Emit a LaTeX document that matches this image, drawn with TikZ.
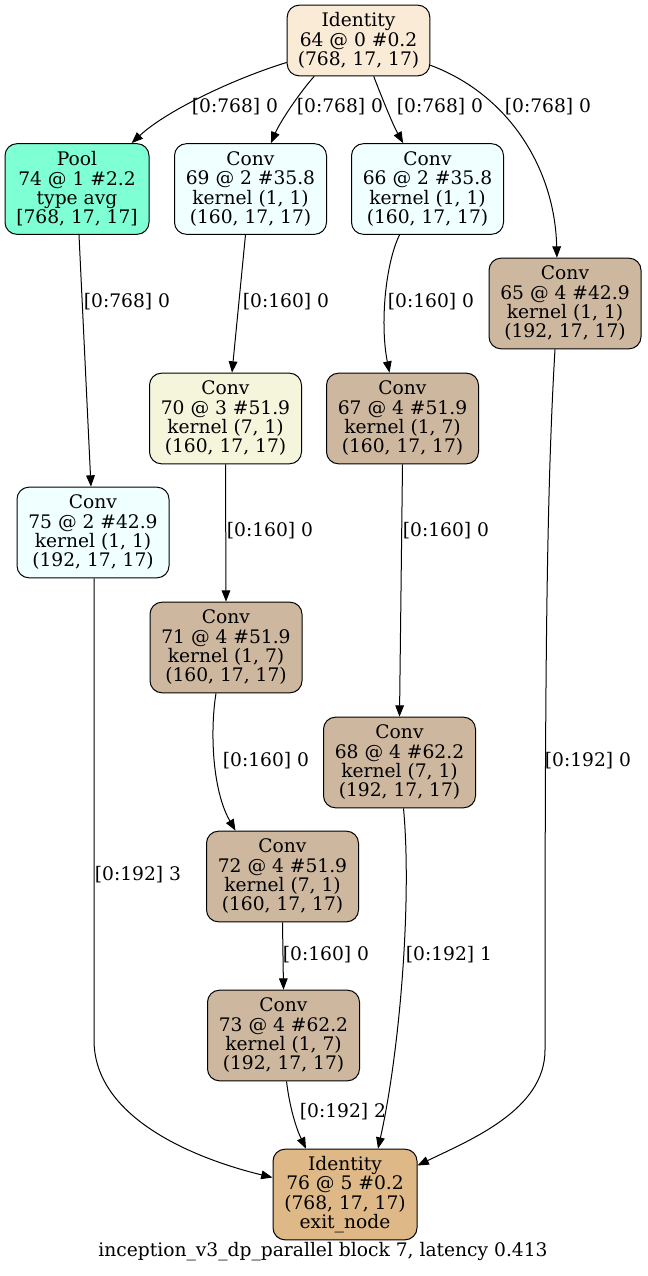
\documentclass[tikz,border=0pt]{standalone}
\usepackage{fontspec}
\setmainfont{DejaVu Serif}
\usetikzlibrary{arrows.meta,calc}
\definecolor{cAW}{HTML}{FAEBD7}
\definecolor{cAq}{HTML}{7FFFD4}
\definecolor{cAz}{HTML}{F0FFFF}
\definecolor{cBe}{HTML}{F5F5DC}
\definecolor{cTan}{HTML}{CDB79E}
\definecolor{cBw}{HTML}{DEB887}
\begin{document}
\begin{tikzpicture}[x=0.75pt,y=-0.75pt,
  txt/.style={font=\fontsize{14}{14.5}\selectfont},
  box/.style={txt,draw,rounded corners=9pt,align=center,inner sep=0pt,minimum width=114pt,minimum height=68pt,line width=0.75pt},
  lbl/.style={txt,inner sep=1pt},
  arr/.style={-{Triangle[length=8.5pt,width=6.5pt]},line width=0.75pt}]
\useasboundingbox (0,0) rectangle (647,1276);
\node[box,fill=cAW,minimum width=107pt,minimum height=53pt] (n64) at (358.5,40.5) {Identity\\64 @ 0 \#0.2\\(768, 17, 17)};
\node[box,fill=cAq,minimum width=108pt] (n74) at (77,189) {Pool\\74 @ 1 \#2.2\\type avg\\{[}768, 17, 17{]}};
\node[box,fill=cAz] (n69) at (250.5,189) {Conv\\69 @ 2 \#35.8\\kernel (1, 1)\\(160, 17, 17)};
\node[box,fill=cAz] (n66) at (427.5,189) {Conv\\66 @ 2 \#35.8\\kernel (1, 1)\\(160, 17, 17)};
\node[box,fill=cTan] (n65) at (565,303.5) {Conv\\65 @ 4 \#42.9\\kernel (1, 1)\\(192, 17, 17)};
\node[box,fill=cBe] (n70) at (225.5,418.5) {Conv\\70 @ 3 \#51.9\\kernel (7, 1)\\(160, 17, 17)};
\node[box,fill=cTan] (n67) at (402.5,418.5) {Conv\\67 @ 4 \#51.9\\kernel (1, 7)\\(160, 17, 17)};
\node[box,fill=cAz] (n75) at (93,532.5) {Conv\\75 @ 2 \#42.9\\kernel (1, 1)\\(192, 17, 17)};
\node[box,fill=cTan] (n71) at (226,647.5) {Conv\\71 @ 4 \#51.9\\kernel (1, 7)\\(160, 17, 17)};
\node[box,fill=cTan] (n68) at (399.5,762.5) {Conv\\68 @ 4 \#62.2\\kernel (7, 1)\\(192, 17, 17)};
\node[box,fill=cTan] (n72) at (282.5,876.5) {Conv\\72 @ 4 \#51.9\\kernel (7, 1)\\(160, 17, 17)};
\node[box,fill=cTan] (n73) at (283.5,1035.5) {Conv\\73 @ 4 \#62.2\\kernel (1, 7)\\(192, 17, 17)};
\node[box,fill=cBw,minimum width=108pt] (n76) at (345,1194.5) {Identity\\76 @ 5 \#0.2\\(768, 17, 17)\\exit\_node};
\node[txt,inner sep=0pt] (cap) at (323,1252) {inception\_v3\_dp\_parallel block 7, latency 0.413};
% edges
\draw[arr] (n64.197) .. controls (230,80) and (165,112) .. (n74.40);
\node[lbl] (l1) at (235,107) {[0:768] 0};
\draw[arr] (n64.219) .. controls (300,92) and (280,122) .. (n69.66);
\node[lbl] (l2) at (340,107) {[0:768] 0};
\draw[arr] (n64.293) .. controls (382,98) and (393,125) .. (n66.118);
\node[lbl] (l3) at (440,107) {[0:768] 0};
\draw[arr] (n64.341) .. controls (510,95) and (555,170) .. (n65.100);
\node[lbl] (l4) at (548,107) {[0:768] 0};
\draw[arr] ($(n74.south)+(2,0)$) -- ($(n75.north)+(-2,0)$);
\node[lbl] (l5) at (127,302) {[0:768] 0};
\draw[arr] ($(n69.south)+(-5,0)$) -- ($(n70.north)+(6.5,0)$);
\node[lbl] (l6) at (286,302) {[0:160] 0};
\draw[arr] ($(n66.south)+(-28,0)$) .. controls (385,265) and (380,325) .. ($(n67.north)+(-13,0)$);
\node[lbl] (l7) at (431,302) {[0:160] 0};
\draw[arr] (n70.south) -- (n71.north);
\node[lbl] (l8) at (270,531) {[0:160] 0};
\draw[arr] (n67.south) -- (n68.north);
\node[lbl] (l9) at (446,531) {[0:160] 0};
\draw[arr] ($(n71.south)+(-10,0)$) .. controls (210,730) and (212,790) .. ($(n72.north)+(-47,0)$);
\node[lbl] (l10) at (266,761) {[0:160] 0};
\draw[arr] (n72.south) -- (n73.north);
\node[lbl] (l11) at (326,955) {[0:160] 0};
\draw[arr] ($(n68.south)+(4,0)$) .. controls (412,900) and (400,1050) .. ($(n76.north)+(33,0)$);
\node[lbl] (l12) at (449,955) {[0:192] 1};
\draw[arr] ($(n73.south)+(3,0)$) .. controls (290,1110) and (297,1130) .. ($(n76.north)+(-39,0)$);
\node[lbl] (l13) at (343,1112) {[0:192] 2};
\draw[arr] ($(n75.south)+(1,0)$) -- (94,1040) .. controls (94,1120) and (200,1160) .. ($(n76.west)+(0,-17)$);
\node[lbl] (l14) at (138,875) {[0:192] 3};
\draw[arr] ($(n65.south)+(-10,0)$) .. controls (546,500) and (545,700) .. (545,1050) .. controls (545,1110) and (470,1140) .. ($(n76.east)+(0,-29)$);
\node[lbl] (l15) at (588,761) {[0:192] 0};
\end{tikzpicture}
\end{document}
